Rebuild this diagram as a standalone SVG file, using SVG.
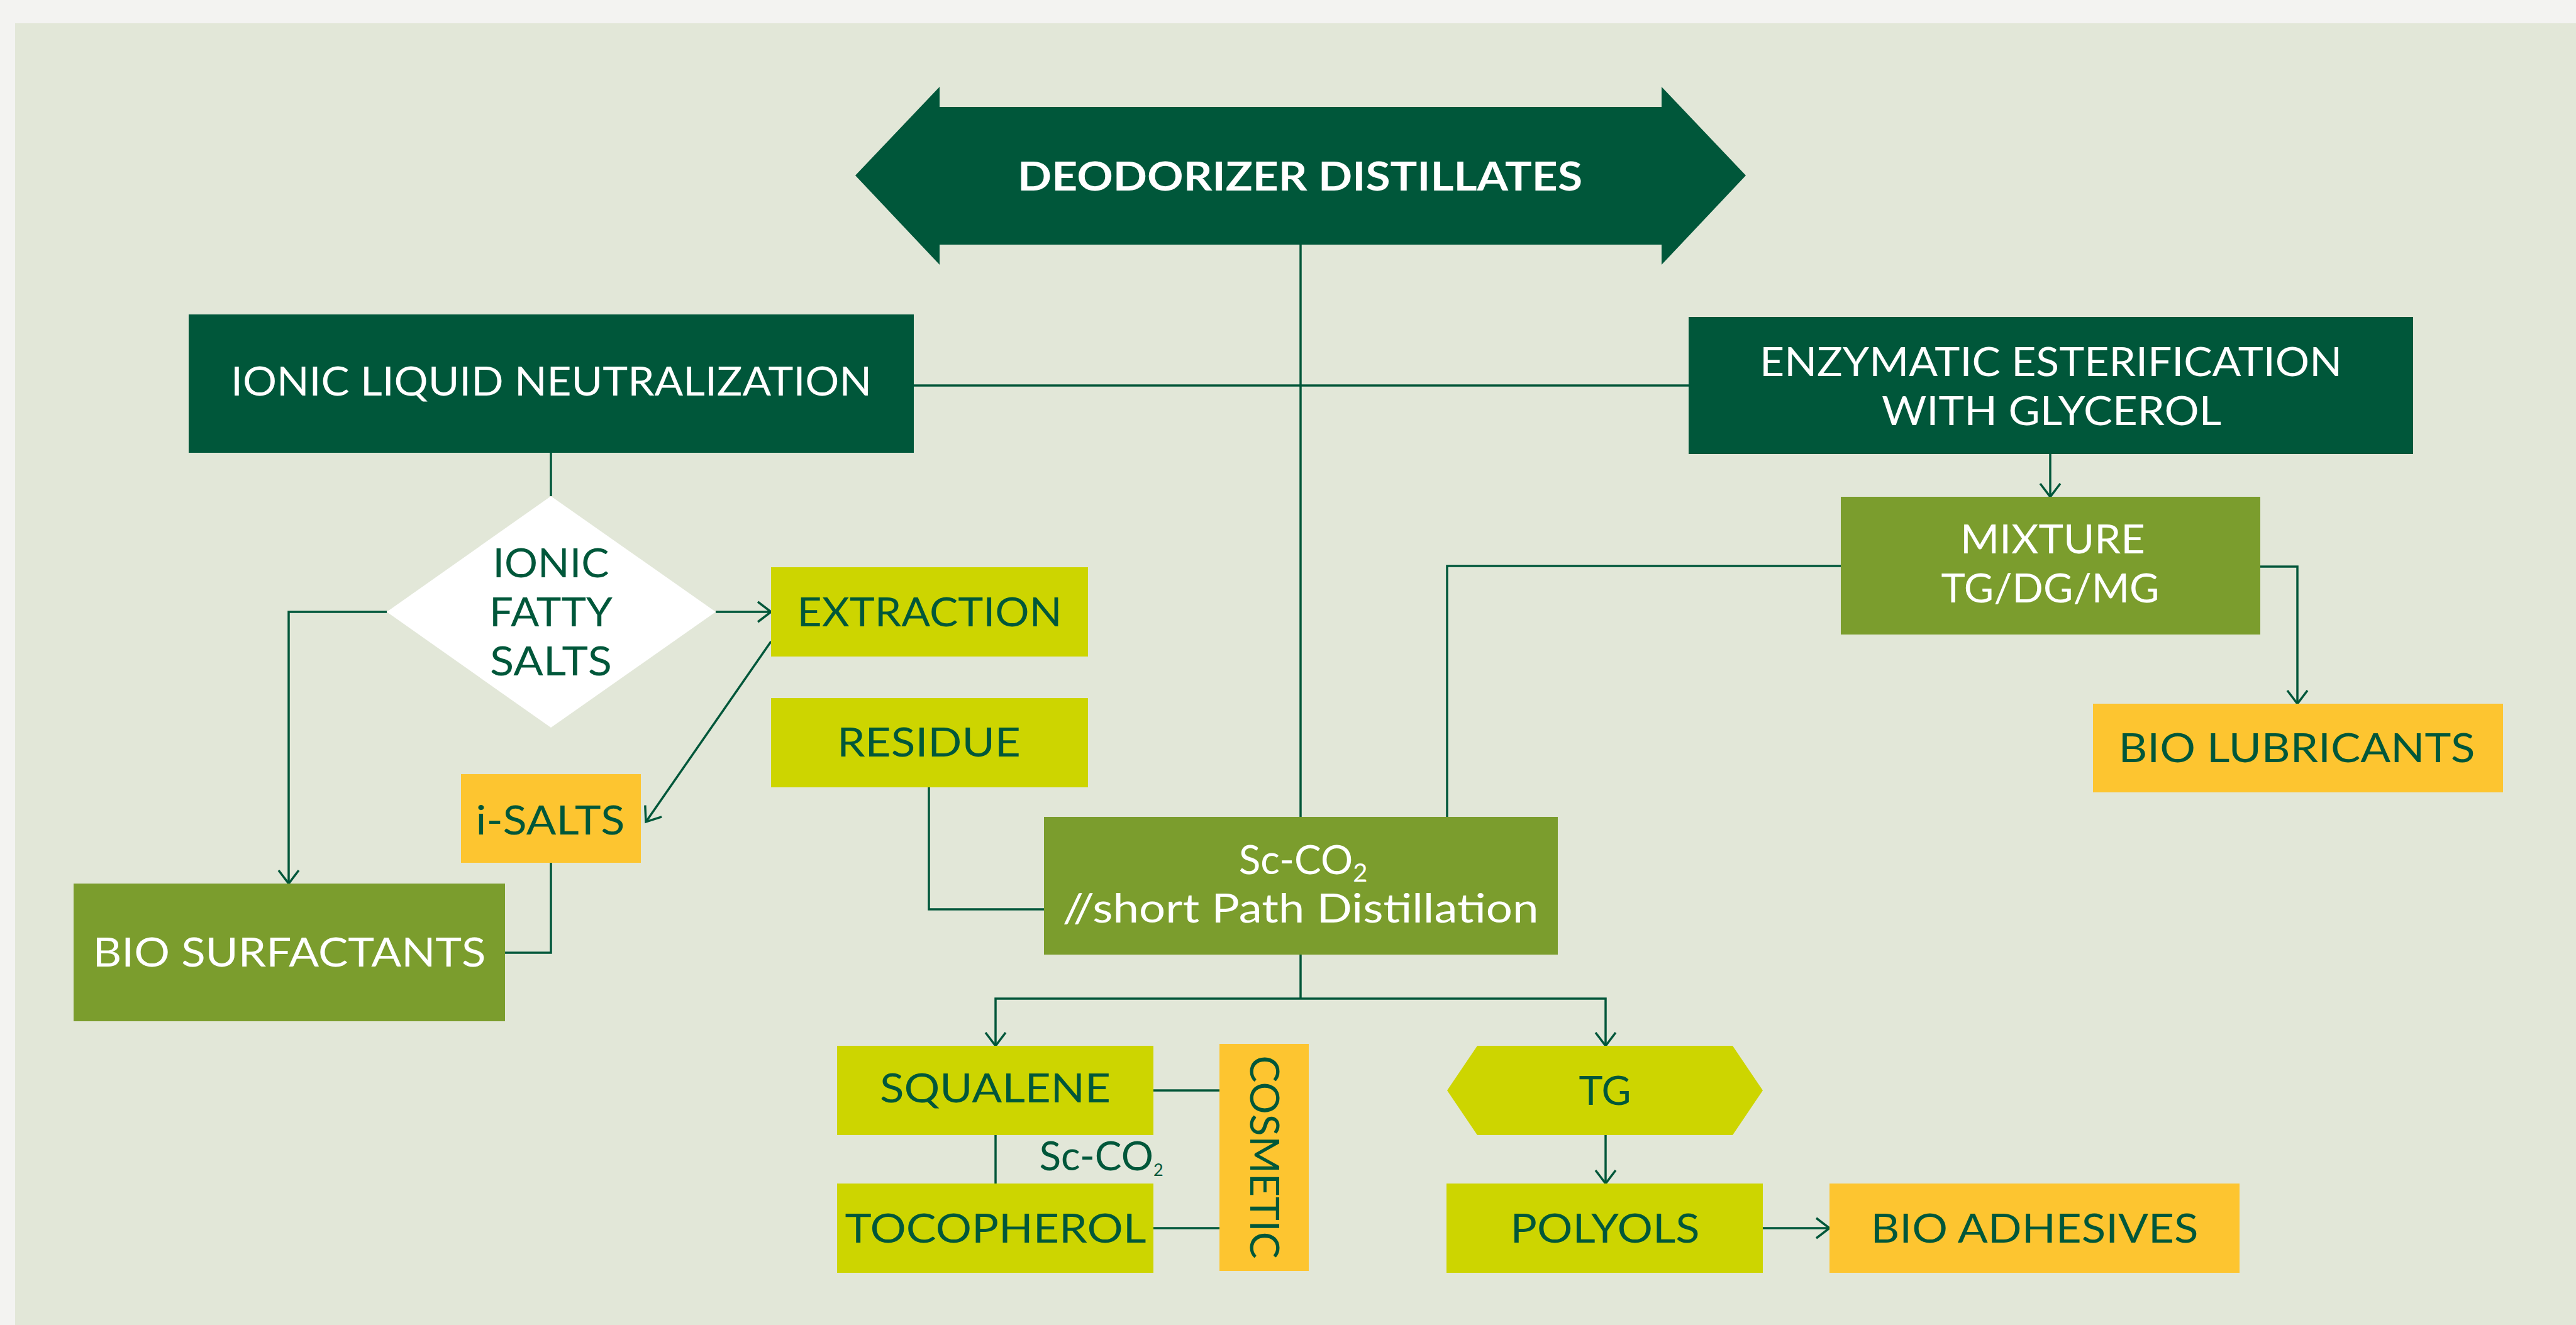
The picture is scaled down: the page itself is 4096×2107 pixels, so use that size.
<svg xmlns="http://www.w3.org/2000/svg" width="4096" height="2107" viewBox="0 0 4096 2107">
<defs>
<style>
.t{font-family:Lato,"Open Sans","Liberation Sans",sans-serif;font-size:64px;text-anchor:middle}
.w{fill:#ffffff}
.g{fill:#00573A}
.dk{fill:#00573A}
.ol{fill:#7B9D2D}
.li{fill:#CDD500}
.ye{fill:#FDC530}
.ln{fill:none;stroke:#00573A;stroke-width:3.5}
.ar{marker-end:url(#arr)}
</style>
<marker id="arr" markerUnits="userSpaceOnUse" markerWidth="40" markerHeight="44" viewBox="-26 -22 30 44" refX="0" refY="0" orient="auto">
<path d="M-21,-16 L0,0 L-21,16" fill="none" stroke="#00573A" stroke-width="3.5"/>
</marker>
</defs>
<rect x="0" y="0" width="4096" height="2107" fill="#F3F3F1"/>
<rect x="24" y="37" width="4072" height="2070" fill="#E2E7D8"/>

<g id="connectors">
<path class="ln" d="M2068,389 V1299"/>
<path class="ln" d="M1453,613 H2685"/>
<path class="ln" d="M876,720 V789"/>
<path class="ln ar" d="M615,973 H459 V1405"/>
<path class="ln ar" d="M1138,973 H1226"/>
<path class="ln ar" d="M1226,1020 L1027,1307"/>
<path class="ln" d="M876,1372 V1515 H803"/>
<path class="ln" d="M1477,1252 V1446 H1660"/>
<path class="ln ar" d="M3260,722 V790"/>
<path class="ln" d="M2927,900 H2301 V1299"/>
<path class="ln ar" d="M3594,901 H3653 V1119"/>
<path class="ln" d="M2068,1518 V1588"/>
<path class="ln ar" d="M2068,1588 H1583 V1663"/>
<path class="ln ar" d="M2068,1588 H2553 V1663"/>
<path class="ln" d="M1583,1805 V1882"/>
<path class="ln" d="M1834,1734 H1939"/>
<path class="ln" d="M1834,1953 H1939"/>
<path class="ln ar" d="M2553,1805 V1882"/>
<path class="ln ar" d="M2803,1953 H2909"/>
</g>

<g id="deodorizer">
<polygon class="dk" points="1360,279 1494,138 1494,170 2642,170 2642,138 2776,279 2642,421 2642,389 1494,389 1494,421"/>
<text class="t w" x="2067" y="303" textLength="898" lengthAdjust="spacingAndGlyphs" font-weight="700">DEODORIZER DISTILLATES</text>
</g>

<g id="ionic-liquid">
<rect class="dk" x="300" y="500" width="1153" height="220"/>
<text class="t w" x="876.5" y="629" textLength="1019" lengthAdjust="spacingAndGlyphs">IONIC LIQUID NEUTRALIZATION</text>
</g>

<g id="enzymatic">
<rect class="dk" x="2685" y="504" width="1152" height="218"/>
<text class="t w" x="3261" y="598" textLength="926" lengthAdjust="spacingAndGlyphs">ENZYMATIC ESTERIFICATION</text>
<text class="t w" x="3262" y="676" textLength="540" lengthAdjust="spacingAndGlyphs">WITH GLYCEROL</text>
</g>

<g id="ionic-fatty-salts">
<polygon fill="#ffffff" points="876,789 1138,973 876,1157 615,973"/>
<text class="t g" x="876" y="918" textLength="185" lengthAdjust="spacingAndGlyphs">IONIC</text>
<text class="t g" x="876" y="996" textLength="196" lengthAdjust="spacingAndGlyphs">FATTY</text>
<text class="t g" x="876" y="1074" textLength="194" lengthAdjust="spacingAndGlyphs">SALTS</text>
</g>

<g id="extraction">
<rect class="li" x="1226" y="902" width="504" height="142"/>
<text class="t g" x="1478" y="996" textLength="421" lengthAdjust="spacingAndGlyphs">EXTRACTION</text>
</g>

<g id="residue">
<rect class="li" x="1226" y="1110" width="504" height="142"/>
<text class="t g" x="1477" y="1203" textLength="292" lengthAdjust="spacingAndGlyphs">RESIDUE</text>
</g>

<g id="i-salts">
<rect class="ye" x="733" y="1231" width="286" height="141"/>
<text class="t g" x="875" y="1327" textLength="237" lengthAdjust="spacingAndGlyphs">i-SALTS</text>
</g>

<g id="bio-surfactants">
<rect class="ol" x="117" y="1405" width="686" height="219"/>
<text class="t w" x="460" y="1537" textLength="625" lengthAdjust="spacingAndGlyphs">BIO SURFACTANTS</text>
</g>

<g id="sc-co2-distillation">
<rect class="ol" x="1660" y="1299" width="817" height="219"/>
<text class="t w" x="2072" y="1390">Sc-CO<tspan font-size="40" dy="12">2</tspan></text>
<text class="t w" x="2068" y="1467" textLength="757" lengthAdjust="spacingAndGlyphs">//short Path Distillation</text>
</g>

<g id="mixture">
<rect class="ol" x="2927" y="790" width="667" height="219"/>
<text class="t w" x="3264" y="880" textLength="294" lengthAdjust="spacingAndGlyphs">MIXTURE</text>
<text class="t w" x="3260" y="958" textLength="347" lengthAdjust="spacingAndGlyphs">TG/DG/MG</text>
</g>

<g id="bio-lubricants">
<rect class="ye" x="3328" y="1119" width="652" height="141"/>
<text class="t g" x="3652" y="1212" textLength="567" lengthAdjust="spacingAndGlyphs">BIO LUBRICANTS</text>
</g>

<g id="squalene">
<rect class="li" x="1331" y="1663" width="503" height="142"/>
<text class="t g" x="1582.5" y="1753" textLength="367" lengthAdjust="spacingAndGlyphs">SQUALENE</text>
</g>

<g id="tocopherol">
<rect class="li" x="1331" y="1882" width="503" height="142"/>
<text class="t g" x="1583" y="1976" textLength="479" lengthAdjust="spacingAndGlyphs">TOCOPHEROL</text>
</g>

<g id="sc-co2-label">
<text class="t g" x="1751" y="1861" font-size="46">Sc-CO<tspan font-size="27" dy="9">2</tspan></text>
</g>

<g id="cosmetic">
<rect class="ye" x="1939" y="1660" width="142" height="361"/>
<text class="t g" transform="translate(2011,1840) rotate(90)" x="0" y="23" textLength="323" lengthAdjust="spacingAndGlyphs">COSMETIC</text>
</g>

<g id="tg">
<polygon class="li" points="2301,1734 2349,1663 2755,1663 2803,1734 2755,1805 2349,1805"/>
<text class="t g" x="2552" y="1757" textLength="83" lengthAdjust="spacingAndGlyphs">TG</text>
</g>

<g id="polyols">
<rect class="li" x="2300" y="1882" width="503" height="142"/>
<text class="t g" x="2552" y="1976" textLength="301" lengthAdjust="spacingAndGlyphs">POLYOLS</text>
</g>

<g id="bio-adhesives">
<rect class="ye" x="2909" y="1882" width="652" height="142"/>
<text class="t g" x="3235" y="1976" textLength="521" lengthAdjust="spacingAndGlyphs">BIO ADHESIVES</text>
</g>
</svg>
